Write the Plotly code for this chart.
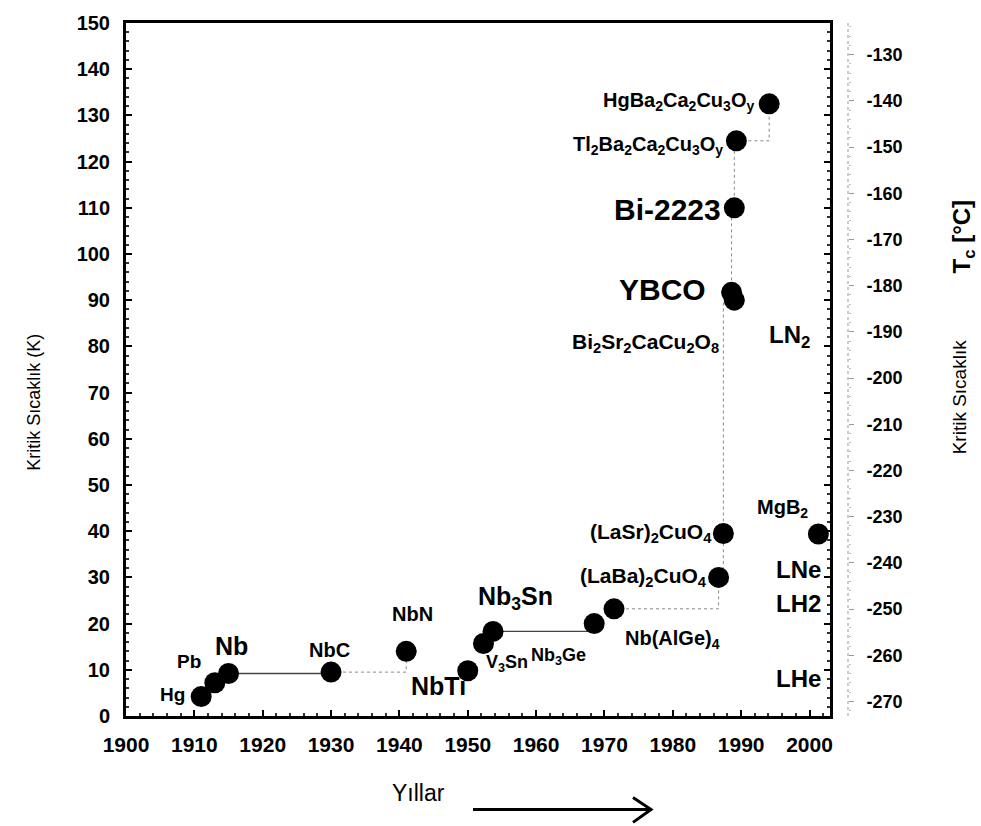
import plotly.graph_objects as go

# ---------------- data ----------------
names = ["Hg", "Pb", "Nb", "NbC", "NbN", "NbTi",
         "V<sub>3</sub>Sn", "Nb<sub>3</sub>Sn", "Nb<sub>3</sub>Ge", "Nb(AlGe)<sub>4</sub>",
         "(LaBa)<sub>2</sub>CuO<sub>4</sub>", "(LaSr)<sub>2</sub>CuO<sub>4</sub>",
         "YBCO", "Bi<sub>2</sub>Sr<sub>2</sub>CaCu<sub>2</sub>O<sub>8</sub>", "Bi-2223",
         "Tl<sub>2</sub>Ba<sub>2</sub>Ca<sub>2</sub>Cu<sub>3</sub>O<sub>y</sub>",
         "HgBa<sub>2</sub>Ca<sub>2</sub>Cu<sub>3</sub>O<sub>y</sub>", "MgB<sub>2</sub>"]
years = [1911, 1913, 1915, 1930, 1941, 1950, 1952.3, 1953.7, 1968.5, 1971.4,
         1986.7, 1987.4, 1988.6, 1989.0, 1989.0, 1989.3, 1994.1, 2001.3]
tc_k = [4.2, 7.2, 9.2, 9.5, 14.0, 9.8, 15.7, 18.3, 20.0, 23.2,
        30.0, 39.5, 91.7, 90.0, 110.0, 124.5, 132.5, 39.4]

# liquefied gases (boiling points, K)
ref_names = ["LN<sub>2</sub>", "LNe", "LH2", "LHe"]
ref_k = [77, 27, 20, 4.2]

# progress connections (from index, to index)
links_solid = [(2, 3), (7, 8)]
links_dotted = [(3, 4), (9, 10), (10, 11), (11, 12), (12, 14), (14, 15), (15, 16)]

x_ticks = list(range(1900, 2001, 10))
k_ticks = list(range(0, 151, 10))
c_ticks = list(range(-130, -271, -10))
c_labels = ["-" + str(abs(v)) for v in c_ticks]

# ---------------- layout helpers ----------------
W, H = 981, 826
ML, MR, MT, MB = 126, 120, 19, 110
PW = W - ML - MR
PH = H - MT - MB
FONT = "Liberation Sans, Arial, Helvetica, sans-serif"


def pxx(x):
    return (x - ML) / PW


def pxy(y):
    return (H - MB - y) / PH


# step mode per link: hv = horizontal then vertical, vh = vertical then horizontal
step_mode = {(11, 12): "vh", (12, 14): "vh", (14, 15): "vh"}


def link_path(links):
    xs, ys = [], []
    for a, b in links:
        mode = step_mode.get((a, b), "hv")
        if mode == "hv":
            xs += [years[a], years[b], years[b], None]
            ys += [tc_k[a], tc_k[a], tc_k[b], None]
        else:
            xs += [years[a], years[a], years[b], None]
            ys += [tc_k[a], tc_k[b], tc_k[b], None]
    return xs, ys


fig = go.Figure()

sx, sy = link_path(links_solid)
fig.add_trace(go.Scatter(x=sx, y=sy, mode="lines", line=dict(color="#444", width=1.3),
                         hoverinfo="skip", showlegend=False))
dx, dy = link_path(links_dotted)
fig.add_trace(go.Scatter(x=dx, y=dy, mode="lines", line=dict(color="#888", width=1, dash="dot"),
                         hoverinfo="skip", showlegend=False))

fig.add_trace(go.Scatter(x=years, y=tc_k, mode="markers",
                         marker=dict(size=21, color="black"),
                         text=names, hoverinfo="text+x+y", showlegend=False))

# Celsius twin axis (same points converted)
fig.add_trace(go.Scatter(x=years, y=[k - 273.15 for k in tc_k], yaxis="y2", mode="markers",
                         marker=dict(size=1, opacity=0), hoverinfo="skip", showlegend=False))

# ---------------- point labels ----------------
# (xanchor, xshift, yshift, size)
label_style = {
    "Hg": ("right", -14, 2, 19),
    "Pb": ("right", -12, 21, 19),
    "Nb": ("center", 3, 28, 25),
    "NbC": ("center", -2, 22, 20),
    "NbN": ("center", 6, 37, 20),
    "NbTi": ("right", 0, -15, 25),
    "V<sub>3</sub>Sn": ("center", 24, -20, 18),
    "Nb<sub>3</sub>Sn": ("center", 22, 33, 25),
    "Nb<sub>3</sub>Ge": ("center", -36, -33, 18),
    "Nb(AlGe)<sub>4</sub>": ("center", 58, -31, 20),
    "(LaBa)<sub>2</sub>CuO<sub>4</sub>": ("right", -10, 0, 21),
    "(LaSr)<sub>2</sub>CuO<sub>4</sub>": ("right", -9, 1, 21),
    "YBCO": ("right", -24, 3, 30),
    "Bi<sub>2</sub>Sr<sub>2</sub>CaCu<sub>2</sub>O<sub>8</sub>": ("right", -13, -43, 21),
    "Bi-2223": ("right", -11, -2, 30),
    "Tl<sub>2</sub>Ba<sub>2</sub>Ca<sub>2</sub>Cu<sub>3</sub>O<sub>y</sub>": ("right", -11, -5, 20),
    "HgBa<sub>2</sub>Ca<sub>2</sub>Cu<sub>3</sub>O<sub>y</sub>": ("right", -13, 2, 20),
    "MgB<sub>2</sub>": ("right", -8, 25, 20),
}
# right edge (px) and vertical lift of the liquefied-gas labels
ref_style = {"LN<sub>2</sub>": (812, 6), "LNe": (823, 6), "LH2": (823, 5), "LHe": (823, 3)}

annotations = []
for n, x, y in zip(names, years, tc_k):
    xa, xs_, ys_, sz = label_style[n]
    annotations.append(dict(x=x, y=y, xref="x", yref="y", text="<b>" + n + "</b>", showarrow=False,
                            xanchor=xa, yanchor="middle", xshift=xs_, yshift=ys_,
                            font=dict(size=sz, family=FONT, color="black")))

for n, k in zip(ref_names, ref_k):
    rx, lift = ref_style[n]
    annotations.append(dict(x=pxx(rx), y=k, xref="paper", yref="y", text="<b>" + n + "</b>",
                            showarrow=False, xanchor="right", yanchor="bottom", yshift=lift,
                            font=dict(size=24, family=FONT, color="black")))

# axis titles
annotations.append(dict(x=pxx(22), y=pxy(400), xref="paper", yref="paper",
                        text="Kritik Sıcaklık (K)", textangle=-90, showarrow=False,
                        font=dict(size=18, family=FONT, color="black")))
annotations.append(dict(x=pxx(972), y=pxy(395), xref="paper", yref="paper",
                        text="Kritik Sıcaklık", textangle=-90, showarrow=False,
                        font=dict(size=19, family=FONT, color="black")))
annotations.append(dict(x=pxx(981), y=pxy(195), xref="paper", yref="paper",
                        text="<b>T<sub>c</sub> [°C]</b>", textangle=-90, showarrow=False,
                        font=dict(size=24, family=FONT, color="black")))
annotations.append(dict(x=pxx(418), y=pxy(809), xref="paper", yref="paper",
                        text="Yıllar", showarrow=False,
                        font=dict(size=23, family=FONT, color="black")))

shapes = [
    # Celsius axis dotted line
    dict(type="line", xref="paper", yref="paper", x0=pxx(848), x1=pxx(848), y0=0, y1=1,
         line=dict(color="#999", width=1, dash="dot")),
    # Yıllar arrow
    dict(type="line", xref="paper", yref="paper", x0=pxx(473), x1=pxx(650), y0=pxy(810), y1=pxy(810),
         line=dict(color="black", width=3)),
    dict(type="path", xref="paper", yref="paper",
         path=f"M {pxx(633)} {pxy(798)} L {pxx(651)} {pxy(810)} L {pxx(633)} {pxy(823)}",
         line=dict(color="black", width=3)),
]

fig.update_layout(
    width=W, height=H,
    margin=dict(l=ML, r=MR, t=MT, b=MB, pad=0),
    paper_bgcolor="white", plot_bgcolor="rgba(0,0,0,0)",
    font=dict(family=FONT, color="black"),
    showlegend=False,
    annotations=annotations, shapes=shapes,
    xaxis=dict(domain=[0, pxx(830)], range=[1900, 2003], tickvals=x_ticks,
               ticks="inside", ticklen=6, tickwidth=1.5, tickcolor="black",
               minor=dict(dtick=2, ticks="inside", ticklen=3, tickcolor="#333"),
               showline=True, linewidth=3, linecolor="black", mirror=True,
               showgrid=False, zeroline=False, ticklabelstandoff=8,
               tickfont=dict(size=21, family=FONT, color="black", weight="bold")),
    yaxis=dict(range=[0, 150], tickvals=k_ticks,
               ticks="inside", ticklen=6, tickwidth=1.5, tickcolor="black",
               minor=dict(dtick=2, ticks="inside", ticklen=3, tickcolor="#333"),
               showline=True, linewidth=3, linecolor="black", mirror="ticks",
               showgrid=False, zeroline=False, ticklabelstandoff=9,
               tickfont=dict(size=20, family=FONT, color="black", weight="bold")),
    yaxis2=dict(overlaying="y", anchor="free", position=pxx(848), side="right",
                range=[-273.15, -123.15], tickvals=c_ticks, ticktext=c_labels,
                ticks="outside", ticklen=5, tickcolor="#999",
                minor=dict(dtick=2, ticks="outside", ticklen=2, tickcolor="#bbb"),
                showline=False, showgrid=False, zeroline=False, ticklabelstandoff=9,
                tickfont=dict(size=18, family=FONT, color="black", weight="bold")),
)

fig.write_html("out.html")
